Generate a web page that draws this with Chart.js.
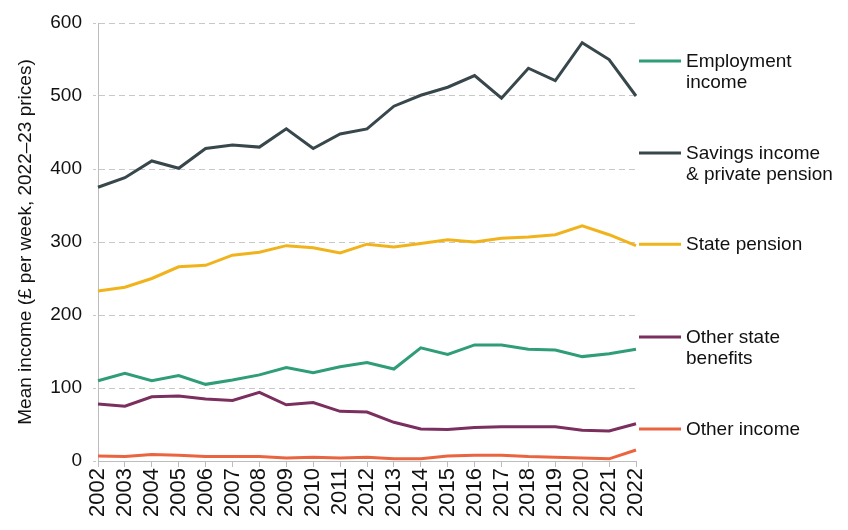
<!DOCTYPE html>
<html>
<head>
<meta charset="utf-8">
<script src="https://cdn.jsdelivr.net/npm/chart.js@4"></script>
<style>
  html,body{margin:0;padding:0;background:#fff}
  #wrap{width:848px;height:530px}
</style>
</head>
<body>
<div id="wrap"><canvas id="c" width="848" height="530"></canvas></div>
<script>
const YEARS = ['2002','2003','2004','2005','2006','2007','2008','2009','2010','2011','2012','2013','2014','2015','2016','2017','2018','2019','2020','2021','2022'];
const EMPLOYMENT = [110,120,110,117,105,111,118,128,121,129,135,126,155,146,159,159,153,152,143,147,153];
const SAVINGS = [375,388,411,401,428,433,430,455,428,448,455,486,501,512,528,497,538,521,573,550,500];
const STATE_PENSION = [233,238,250,266,268,282,286,295,292,285,297,293,298,303,300,305,307,310,322,310,295];
const OTHER_BENEFITS = [78,75,88,89,85,83,94,77,80,68,67,53,44,43,46,47,47,47,42,41,51];
const OTHER_INCOME = [7,6,9,8,6,6,6,4,5,4,5,3,3,7,8,8,6,5,4,3,15];
const Y_TICKS = [0,100,200,300,400,500,600];

const FONT = '"Liberation Sans", Arial, sans-serif';

// label text + the y value where its key line sits
const LABELS = [
  {lines:['Employment','income'], at:548, color:'#2f9d78'},
  {lines:['Savings income','& private pension'], at:422, color:'#37474c'},
  {lines:['State pension'], at:297, color:'#f1b31c'},
  {lines:['Other state','benefits'], at:170, color:'#7b2f5e'},
  {lines:['Other income'], at:44, color:'#ea6440'},
];

const sideLegend = {
  id:'sideLegend',
  afterDraw(chart){
    const {ctx, chartArea, scales} = chart;
    ctx.save();
    ctx.font = '19px ' + FONT;
    ctx.textBaseline = 'middle';
    ctx.fillStyle = '#111';
    LABELS.forEach(l=>{
      const y = scales.y.getPixelForValue(l.at);
      ctx.strokeStyle = l.color;
      ctx.lineWidth = 3;
      ctx.beginPath();
      ctx.moveTo(chartArea.right + 3, y);
      ctx.lineTo(chartArea.right + 45, y);
      ctx.stroke();
      l.lines.forEach((t,i)=>ctx.fillText(t, chartArea.right + 50, y + 1 + i*21));
    });
    ctx.restore();
  }
};

function ds(label, data, color){
  return {label, data, borderColor:color, backgroundColor:color, borderWidth:3, pointRadius:0, tension:0, fill:false};
}

new Chart(document.getElementById('c').getContext('2d'), {
  type:'line',
  data:{
    labels:YEARS,
    datasets:[
      ds('Employment income', EMPLOYMENT, LABELS[0].color),
      ds('Savings income & private pension', SAVINGS, LABELS[1].color),
      ds('State pension', STATE_PENSION, LABELS[2].color),
      ds('Other state benefits', OTHER_BENEFITS, LABELS[3].color),
      ds('Other income', OTHER_INCOME, LABELS[4].color),
    ]
  },
  options:{
    responsive:false,
    animation:false,
    layout:{padding:{left:0, right:212, top:23, bottom:0}},
    plugins:{legend:{display:false}, tooltip:{enabled:false}},
    scales:{
      x:{
        offset:false,
        afterFit(axis){ axis.height = 69; },
        grid:{display:true, drawOnChartArea:false, drawTicks:true, tickLength:6, color:'#bdbdbd'},
        border:{color:'#bdbdbd'},
        ticks:{color:'#111', font:{family:FONT, size:22}, maxRotation:90, minRotation:90, autoSkip:false, padding:1}
      },
      y:{
        min:0, max:600,
        afterBuildTicks(axis){ axis.ticks = Y_TICKS.map(v=>({value:v})); },
        afterFit(axis){ axis.width = 98; },
        grid:{color:'#c8c8c8', tickLength:5, tickBorderDash:[3,2]},
        border:{color:'#bdbdbd', display:true, dash:[6,4]},
        ticks:{color:'#111', font:{family:FONT, size:19}, padding:11},
        title:{display:true, text:'Mean income (£ per week, 2022–23 prices)', color:'#111', font:{family:FONT, size:19}, padding:{top:14, bottom:4}}
      }
    }
  },
  plugins:[sideLegend]
});
</script>
</body>
</html>
